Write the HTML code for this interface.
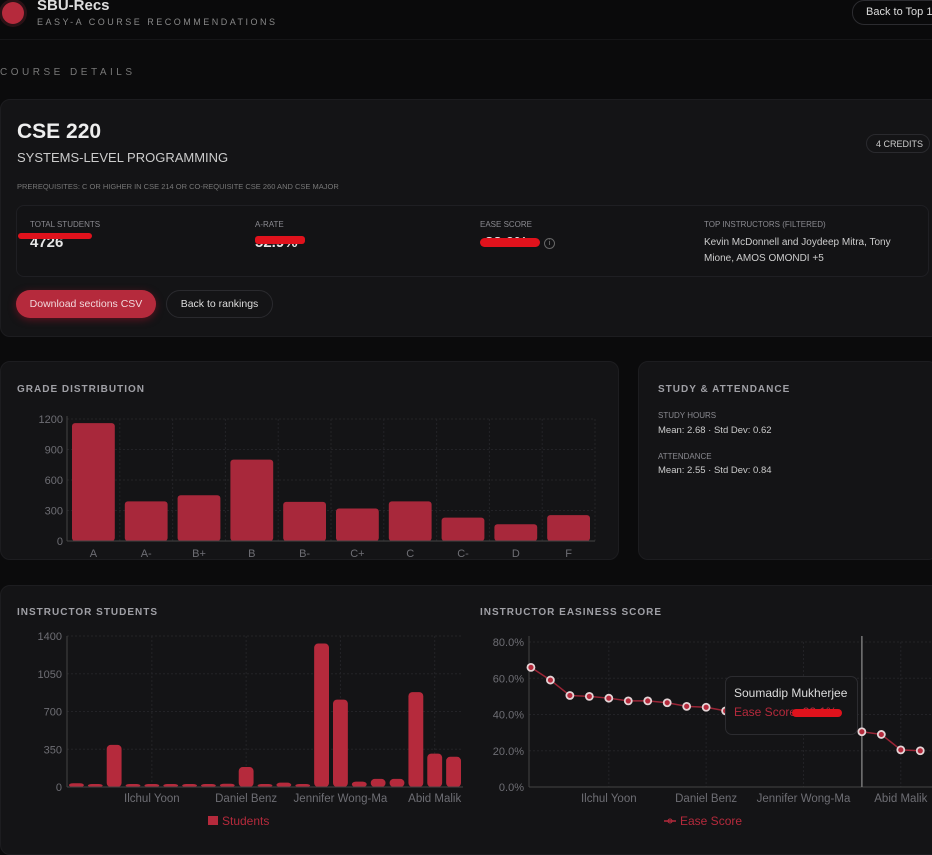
<!DOCTYPE html>
<html><head><meta charset="utf-8">
<style>
*{box-sizing:border-box;margin:0;padding:0}
body{width:932px;height:841px;overflow:hidden;background:#0b0b0c;font-family:"Liberation Sans",sans-serif;color:#e6e6e6;position:relative}
.abs{position:absolute}
.card{position:absolute;background:#141416;border:1px solid #1d1d20;border-radius:10px}
.cap{font-size:10px;letter-spacing:1px;font-weight:bold;color:#a0a0a6}
.lbl{font-size:8px;color:#8a8a90}
</style></head><body>
<div class="abs" style="left:0;top:0;width:932px;height:40px;background:#0a0a0b;border-bottom:1px solid #161618"></div>
<div class="abs" style="left:2px;top:2px;width:22px;height:22px;border-radius:50%;background:#b52a3c;box-shadow:0 0 0 3px #2a1216"></div>
<div class="abs" style="left:37px;top:-3px;font-size:15px;font-weight:bold;color:#ddd">SBU-Recs</div>
<div class="abs" style="left:37px;top:17px;font-size:9px;letter-spacing:2.5px;color:#888">EASY-A COURSE RECOMMENDATIONS</div>
<div class="abs" style="left:852px;top:0;width:100px;height:25px;border:1px solid #2c2c30;border-radius:12px;font-size:11px;color:#ddd;padding:5px 0 0 13px">Back to Top 10</div>
<div class="abs" style="left:0;top:67px;font-size:10px;letter-spacing:3.5px;color:#777">COURSE DETAILS</div>

<div class="card" style="left:0;top:99px;width:940px;height:238px"></div>
<div class="abs" style="left:17px;top:120px;font-size:21px;font-weight:bold;color:#eee">CSE 220</div>
<div class="abs" style="left:17px;top:150px;font-size:13px;color:#ccc">SYSTEMS-LEVEL PROGRAMMING</div>
<div class="abs" style="left:866px;top:134px;width:64px;height:19px;border:1px solid #2a2a2e;border-radius:10px;font-size:9px;color:#ccc;padding:4px 0 0 9px">4 CREDITS</div>
<div class="abs" style="left:17px;top:182px;font-size:7.5px;color:#777">PREREQUISITES: C OR HIGHER IN CSE 214 OR CO-REQUISITE CSE 260 AND CSE MAJOR</div>
<div class="abs" style="left:16px;top:205px;width:913px;height:72px;border:1px solid #1f1f23;border-radius:8px;background:#131315"></div>
<div class="abs lbl" style="left:30px;top:220px">TOTAL STUDENTS</div>
<div class="abs" style="left:30px;top:234px;font-size:15px;font-weight:bold">4726</div>
<div class="abs" style="left:18px;top:233px;width:74px;height:6px;background:#e0121c;border-radius:3px"></div>
<div class="abs lbl" style="left:255px;top:220px">A-RATE</div>
<div class="abs" style="left:255px;top:234px;font-size:15px;font-weight:bold">52.9%</div>
<div class="abs" style="left:255px;top:236px;width:50px;height:8px;background:#e0121c;border-radius:3px"></div>
<div class="abs lbl" style="left:480px;top:220px">EASE SCORE</div>
<div class="abs" style="left:485px;top:234px;font-size:15px;font-weight:bold">32.0%</div>
<div class="abs" style="left:480px;top:238px;width:60px;height:9px;background:#e0121c;border-radius:5px"></div>
<div class="abs" style="left:544px;top:238px;width:11px;height:11px;border:1px solid #666;border-radius:50%;font-size:7px;color:#888;text-align:center;line-height:9px">i</div>
<div class="abs lbl" style="left:704px;top:220px">TOP INSTRUCTORS (FILTERED)</div>
<div class="abs" style="left:704px;top:235px;font-size:10px;line-height:16px;color:#ccc;width:215px">Kevin McDonnell and Joydeep Mitra, Tony Mione, AMOS OMONDI +5</div>
<div class="abs" style="left:16px;top:290px;width:140px;height:28px;background:#b52a3c;border-radius:14px;font-size:10.5px;color:#f2d8dc;text-align:center;line-height:28px;box-shadow:0 2px 8px #5a1420">Download sections CSV</div>
<div class="abs" style="left:166px;top:290px;width:107px;height:28px;border:1px solid #2a2a2e;border-radius:14px;font-size:10.5px;color:#ddd;text-align:center;line-height:26px">Back to rankings</div>

<div class="card" style="left:0;top:361px;width:619px;height:199px"></div>
<div class="abs cap" style="left:17px;top:384px">GRADE DISTRIBUTION</div>
<div class="card" style="left:638px;top:361px;width:300px;height:199px"></div>
<div class="abs cap" style="left:658px;top:384px">STUDY &amp; ATTENDANCE</div>
<div class="abs lbl" style="left:658px;top:411px">STUDY HOURS</div>
<div class="abs" style="left:658px;top:425px;font-size:9.5px;color:#ccc">Mean: 2.68 · Std Dev: 0.62</div>
<div class="abs lbl" style="left:658px;top:452px">ATTENDANCE</div>
<div class="abs" style="left:658px;top:465px;font-size:9.5px;color:#ccc">Mean: 2.55 · Std Dev: 0.84</div>

<div class="card" style="left:0;top:585px;width:940px;height:270px"></div>
<div class="abs cap" style="left:17px;top:607px">INSTRUCTOR STUDENTS</div>
<div class="abs cap" style="left:480px;top:607px">INSTRUCTOR EASINESS SCORE</div>

<svg id="chart" class="abs" style="left:0;top:0" width="932" height="841"></svg>

<div class="abs" style="left:725px;top:676px;width:133px;height:59px;background:#141416;border:1px solid #2c2c30;border-radius:7px;font-size:12px;padding:9px 0 0 8px">
<div style="color:#ddd">Soumadip Mukherjee</div>
<div style="color:#b52a3c;margin-top:5px">Ease Score: 32.1%</div></div>
<div class="abs" style="left:792px;top:709px;width:50px;height:8px;background:#e0121c;border-radius:4px"></div>

<script>
const gradeCats=["A","A-","B+","B","B-","C+","C","C-","D","F"];
const gradeVals=[1160,390,450,800,385,320,390,230,165,255];
const gradeTicks=[0,300,600,900,1200];
const instNames=["","","","","Ilchul Yoon","","","","","Daniel Benz","","","","","Jennifer Wong-Ma","","","","","Abid Malik",""];
const instStudents=[35,25,390,10,5,10,10,20,30,185,20,40,20,1330,810,50,75,75,880,310,280];
const studentTicks=[0,350,700,1050,1400];
const easeVals=[66,59,50.5,50,49,47.5,47.5,46.5,44.5,44,42,41,40,39,38,35,34,30.5,29,20.5,20];
const easeTicks=[0,20,40,60,80];

const svg=document.getElementById('chart');
const NS="http://www.w3.org/2000/svg";
function mk(t,a,txt){const e=document.createElementNS(NS,t);for(const k in a)e.setAttribute(k,a[k]);if(txt!==undefined)e.textContent=txt;svg.appendChild(e);return e;}
const RED="#b52a3c",GRID="#232327",AX="#444",TXT="#6e6e74";

// grade chart
(function(){
 const x0=67,x1=595,y0=541,y1=419,max=1200;
 const bw=(x1-x0)/gradeCats.length;
 const ys=v=>y0-(v/max)*(y0-y1);
 gradeTicks.forEach(t=>{const l=mk('line',{x1:x0,x2:x1,y1:ys(t),y2:ys(t),stroke:GRID,'stroke-dasharray':'2,2'});
  const tx=mk('text',{x:x0-4,y:ys(t)+4,'text-anchor':'end','font-size':11,fill:TXT},t);});
 gradeCats.forEach((c,i)=>{
  const g=mk('line',{x1:x0+bw*(i+1),x2:x0+bw*(i+1),y1:y1,y2:y0,stroke:GRID,'stroke-dasharray':'2,2'});
  const h=y0-ys(gradeVals[i]);
  const r=mk('rect',{x:x0+bw*i+5,y:ys(gradeVals[i]),width:bw-10,height:h,rx:3,fill:"#a8283b"});
  
  const t=mk('text',{x:x0+bw*(i+0.5),y:y0+16,'text-anchor':'middle','font-size':11,fill:TXT},c);
  
 });
 mk('line',{x1:x0,x2:x1,y1:y0,y2:y0,stroke:AX});mk('line',{x1:x0,x2:x0,y1:y1-3,y2:y0,stroke:AX});
})();

// students chart
(function(){
 const x0=67,x1=463,y0=787,y1=636,max=1400;
 const bw=(x1-x0)/instStudents.length;
 const ys=v=>y0-(v/max)*(y0-y1);
 studentTicks.forEach(t=>{const l=mk('line',{x1:x0,x2:x1,y1:ys(t),y2:ys(t),stroke:GRID,'stroke-dasharray':'2,2'});
  const tx=mk('text',{x:x0-5,y:ys(t)+4,'text-anchor':'end','font-size':11,fill:TXT},t);});
 instStudents.forEach((v,i)=>{
  const cx=x0+bw*(i+0.5);
  if(instNames[i]){const g=mk('line',{x1:cx,x2:cx,y1:y1,y2:y0,stroke:GRID,'stroke-dasharray':'2,2'});
   const t=mk('text',{x:cx,y:y0+15,'text-anchor':'middle','font-size':11.5,fill:TXT},instNames[i]);}
  const h=Math.max(y0-ys(v),3);
  const r=mk('rect',{x:cx-bw/2+2,y:y0-h,width:bw-4,height:h,rx:4,fill:RED});
  
 });
 mk('line',{x1:x0,x2:x1,y1:y0,y2:y0,stroke:AX});mk('line',{x1:x0,x2:x0,y1:y1,y2:y0,stroke:AX});
 const lr=mk('rect',{x:208,y:816,width:10,height:9,fill:RED});
 const lt=mk('text',{x:222,y:825,'font-size':12,fill:RED},'Students');
})();

// ease chart
(function(){
 const x0=529,x1=932,y0=787,y1=642,max=80;
 const step=(x1-x0-2)/(easeVals.length-0.4);
 const xs=i=>x0+step*(i+0.1);
 const ys=v=>y0-(v/max)*(y0-y1);
 easeTicks.forEach(t=>{const l=mk('line',{x1:x0,x2:x1,y1:ys(t),y2:ys(t),stroke:GRID,'stroke-dasharray':'2,2'});
  const tx=mk('text',{x:x0-5,y:ys(t)+4,'text-anchor':'end','font-size':11,fill:TXT},t.toFixed(1)+'%');});
 instNames.forEach((n,i)=>{if(n){const g=mk('line',{x1:xs(i),x2:xs(i),y1:y1,y2:y0,stroke:GRID,'stroke-dasharray':'2,2'});
  const t=mk('text',{x:xs(i),y:y0+15,'text-anchor':'middle','font-size':11.5,fill:TXT},n);}});
 mk('line',{x1:x0,x2:x1,y1:y0,y2:y0,stroke:AX});mk('line',{x1:x0,x2:x0,y1:y1-6,y2:y0,stroke:AX});
 const hl=mk('line',{x1:xs(17),x2:xs(17),y1:636,y2:y0,stroke:'#777','stroke-width':1.5});
 const p=mk('polyline',{points:easeVals.map((v,i)=>xs(i)+','+ys(v)).join(' '),fill:'none',stroke:'#9a2536','stroke-width':1.5});
 
 easeVals.forEach((v,i)=>{const c=mk('circle',{cx:xs(i),cy:ys(v),r:3.5,fill:RED,stroke:'#e4d4d6','stroke-width':1.8});});
 const ll=mk('line',{x1:664,x2:676,y1:821,y2:821,stroke:RED,'stroke-width':1.5});
 const lc=mk('circle',{cx:670,cy:821,r:2,fill:'none',stroke:RED});
 const lt=mk('text',{x:680,y:825,'font-size':12,fill:RED},'Ease Score');
})();
</script>
</body></html>
